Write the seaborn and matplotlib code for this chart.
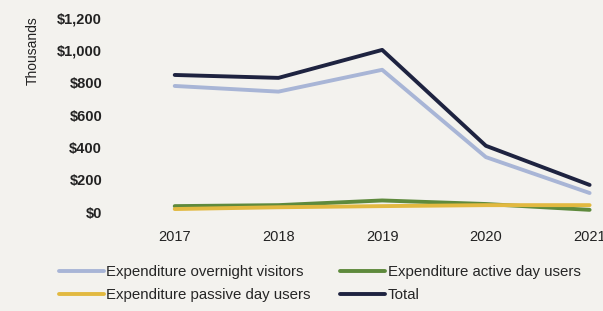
import pandas as pd
import seaborn as sns
import matplotlib.pyplot as plt
from matplotlib.ticker import FuncFormatter

years = [2017, 2018, 2019, 2020, 2021]
overnight = [780, 745, 880, 340, 118]
active_day = [37, 43, 72, 50, 14]
passive_day = [19, 30, 37, 43, 43]
total = [848, 830, 1003, 410, 168]

series_names = ['Expenditure overnight visitors', 'Expenditure active day users',
                'Expenditure passive day users', 'Total']
colors = ['#a8b5d6', '#5e8a3c', '#e2b940', '#1e2340']

df = pd.DataFrame({'Year': years,
                   series_names[0]: overnight,
                   series_names[1]: active_day,
                   series_names[2]: passive_day,
                   series_names[3]: total})
long_df = df.melt(id_vars='Year', var_name='Series', value_name='Value')

sns.set_style('white')
plt.rcParams['font.family'] = ['Liberation Sans', 'DejaVu Sans']

fig = plt.figure(figsize=(6.03, 3.11), dpi=100, facecolor='#f3f2ee')
ax = fig.add_axes([0.19, 0.318, 0.805, 0.624])
ax.set_facecolor('#f3f2ee')

sns.lineplot(data=long_df, x='Year', y='Value', hue='Series', hue_order=series_names,
             palette=colors, linewidth=2.8, ax=ax, legend=False)

ax.set_xlim(2016.42, 2021.1)
ax.set_ylim(0, 1200)
ax.set_xticks(years)
ax.set_yticks(range(0, 1201, 200))
ax.yaxis.set_major_formatter(FuncFormatter(lambda v, p: '$0' if v == 0 else f'${v:,.0f}'))
ax.tick_params(axis='both', length=0, labelsize=10.5, colors='#222222')
ax.tick_params(axis='x', pad=13)
ax.tick_params(axis='y', pad=9)
for lbl in ax.get_yticklabels():
    lbl.set_fontweight('bold')
ax.set_xlabel('')
ax.set_ylabel('Thousands', fontsize=10, color='#222222')
ax.yaxis.set_label_coords(-0.155, 0.83)
for s in ax.spines.values():
    s.set_visible(False)

# matplotlib fills legend column-wise, so order for row-wise reading
order = [0, 2, 1, 3]
handles = [plt.Line2D([], [], color=colors[i], linewidth=2.8) for i in order]
labels = [series_names[i] for i in order]
fig.legend(handles, labels, loc='lower left', bbox_to_anchor=(0.075, -0.015),
           ncol=2, frameon=False, fontsize=10.8, handlelength=3.0, handletextpad=0.15,
           columnspacing=2.0, labelspacing=0.6)

fig.savefig('out.png', dpi=100, facecolor=fig.get_facecolor())
